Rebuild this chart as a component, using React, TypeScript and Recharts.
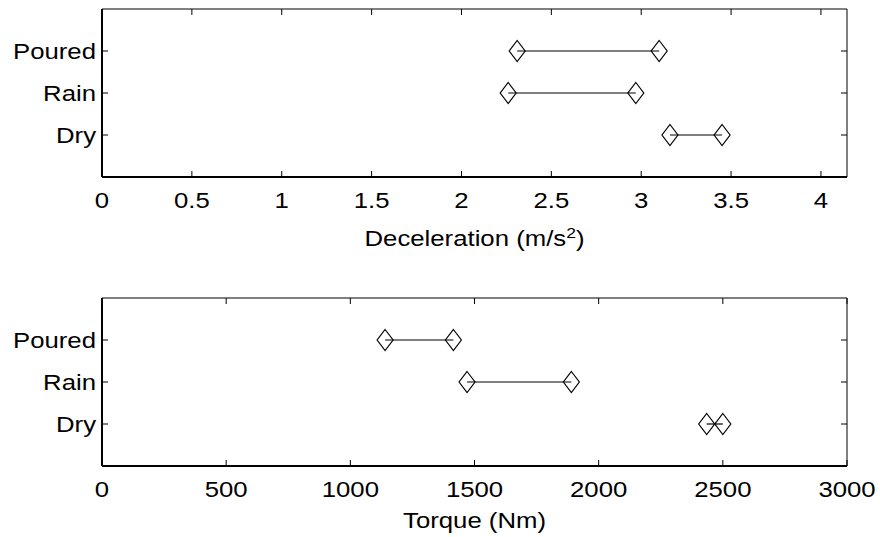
import React from "react";
import { ScatterChart, Scatter, XAxis, YAxis } from "recharts";

const surfaces = ["Dry", "Rain", "Poured"];
const decelLow = [3.16, 2.26, 2.31];
const decelHigh = [3.45, 2.97, 3.1];
const torqueLow = [2435, 1470, 1140];
const torqueHigh = [2500, 1890, 1415];
const decelTicks = [0, 0.5, 1, 1.5, 2, 2.5, 3, 3.5, 4];
const torqueTicks = [0, 500, 1000, 1500, 2000, 2500, 3000];
const rowTicks = [1, 2, 3];

const FONT = "'Liberation Sans', Arial, Helvetica, sans-serif";
const SX = 1.17;
const FS = 22;

const rows = (low: number[], high: number[]) =>
  surfaces.map((name, i) => ({
    name,
    points: [
      { x: low[i], y: i + 1 },
      { x: high[i], y: i + 1 },
    ],
  }));

const Diamond = (props: any) => {
  const { cx, cy } = props;
  if (cx == null || cy == null) return <g />;
  return (
    <polygon
      points={`${cx},${cy - 10.5} ${cx + 8},${cy} ${cx},${cy + 10.5} ${cx - 8},${cy}`}
      fill="none"
      stroke="#000"
      strokeWidth={1.2}
    />
  );
};

const Nothing = () => <g />;

const BottomTick = ({ x, y, payload }: any) => (
  <g>
    <line x1={x} x2={x} y1={y} y2={y - 6} stroke="#000" />
    <text
      transform={`translate(${x},${y + 31}) scale(${SX},1)`}
      textAnchor="middle"
      fontSize={FS}
      fontFamily={FONT}
      fill="#000"
    >
      {String(payload.value)}
    </text>
  </g>
);

const TopTick = ({ x, y }: any) => (
  <line x1={x} x2={x} y1={y} y2={y + 6} stroke="#000" />
);

const LeftTick = ({ x, y, payload }: any) => (
  <g>
    <line x1={x} x2={x + 6} y1={y} y2={y} stroke="#000" />
    <text
      transform={`translate(${x - 6},${y + 8}) scale(${SX},1)`}
      textAnchor="end"
      fontSize={FS}
      fontFamily={FONT}
      fill="#000"
    >
      {surfaces[payload.value - 1]}
    </text>
  </g>
);

const RightTick = ({ x, y }: any) => (
  <line x1={x} x2={x - 6} y1={y} y2={y} stroke="#000" />
);

function Panel({
  low,
  high,
  domainMax,
  ticks,
  height,
  top,
  axisHeight,
  title,
  titleOffset,
}: {
  low: number[];
  high: number[];
  domainMax: number;
  ticks: number[];
  height: number;
  top: number;
  axisHeight: number;
  title: React.ReactNode;
  titleOffset: number;
}) {
  const data = rows(low, high);
  return (
    <ScatterChart
      width={880}
      height={height}
      margin={{ top, right: 32, left: 2, bottom: 0 }}
    >
      <XAxis
        xAxisId="b"
        type="number"
        dataKey="x"
        domain={[0, domainMax]}
        ticks={ticks}
        interval={0}
        allowDataOverflow
        height={axisHeight}
        tickSize={0}
        tickMargin={0}
        tickLine={false}
        axisLine={{ stroke: "#000", strokeWidth: 2 }}
        tick={BottomTick}
        label={{
          content: ({ viewBox }: any) => (
            <text
              transform={`translate(${viewBox.x + viewBox.width / 2},${viewBox.y + titleOffset}) scale(${SX},1)`}
              textAnchor="middle"
              fontSize={FS}
              fontFamily={FONT}
              fill="#000"
            >
              {title}
            </text>
          ),
        }}
      />
      <XAxis
        xAxisId="t"
        orientation="top"
        type="number"
        dataKey="x"
        domain={[0, domainMax]}
        ticks={ticks}
        interval={0}
        allowDataOverflow
        height={1}
        tickSize={0}
        tickMargin={0}
        tickLine={false}
        axisLine={{ stroke: "#000", strokeWidth: 1 }}
        tick={TopTick}
      />
      <YAxis
        yAxisId="l"
        type="number"
        dataKey="y"
        domain={[0, 4]}
        ticks={rowTicks}
        interval={0}
        allowDataOverflow
        width={100}
        tickSize={0}
        tickMargin={0}
        tickLine={false}
        axisLine={{ stroke: "#000", strokeWidth: 2 }}
        tick={LeftTick}
      />
      <YAxis
        yAxisId="r"
        orientation="right"
        type="number"
        dataKey="y"
        domain={[0, 4]}
        ticks={rowTicks}
        interval={0}
        allowDataOverflow
        width={1}
        tickSize={0}
        tickMargin={0}
        tickLine={false}
        axisLine={{ stroke: "#000", strokeWidth: 1 }}
        tick={RightTick}
      />
      {/* keeps the mirrored top/right axes active so the box closes */}
      <Scatter
        data={data[0].points}
        xAxisId="t"
        yAxisId="r"
        shape={Nothing}
        legendType="none"
        isAnimationActive={false}
      />
      {data.map((r) => (
        <Scatter
          key={r.name}
          name={r.name}
          data={r.points}
          xAxisId="b"
          yAxisId="l"
          line={{ stroke: "#000", strokeWidth: 1.2 }}
          lineType="joint"
          shape={Diamond}
          isAnimationActive={false}
        />
      ))}
    </ScatterChart>
  );
}

export default function App() {
  return (
    <div
      style={{
        position: "absolute",
        left: 0,
        top: 0,
        width: 880,
        height: 537,
        background: "#fff",
      }}
    >
      <Panel
        low={decelLow}
        high={decelHigh}
        domainMax={4.145}
        ticks={decelTicks}
        height={268}
        top={8}
        axisHeight={91}
        titleOffset={69}
        title={
          <>
            Deceleration (m/s
            <tspan dy={-8} fontSize={15}>
              2
            </tspan>
            <tspan dy={8}>)</tspan>
          </>
        }
      />
      <Panel
        low={torqueLow}
        high={torqueHigh}
        domainMax={3000}
        ticks={torqueTicks}
        height={269}
        top={29}
        axisHeight={71}
        titleOffset={62}
        title="Torque (Nm)"
      />
    </div>
  );
}
